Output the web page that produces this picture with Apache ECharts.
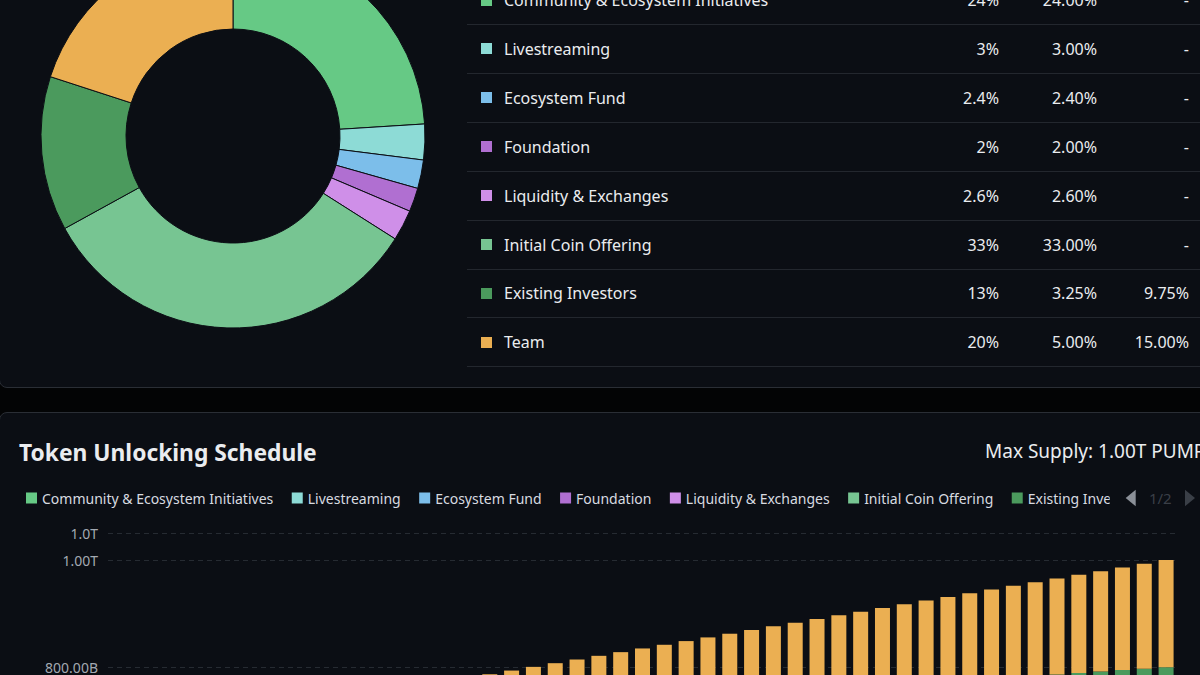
<!DOCTYPE html>
<html>
<head>
<meta charset="utf-8">
<script src="https://cdn.jsdelivr.net/npm/echarts@6/dist/echarts.min.js"></script>
<style>
  html, body { margin:0; padding:0; width:1200px; height:675px; overflow:hidden; background:#030405; font-family: "Noto Sans", Roboto, sans-serif; }
  .card { position:absolute; background:#0b0e14; border:1px solid #2a2e35; border-radius:8px; box-sizing:border-box; }
  #topCard { left:-1px; top:-200px; width:1400px; height:588px; }
  #botCard { left:-1px; top:412px; width:1400px; height:900px; }
  #pie { position:absolute; left:0; top:0; width:466px; height:387px; }
  #bar { position:absolute; left:0; top:412px; width:1200px; height:750px; }
  .row { position:absolute; left:467px; width:733px; height:49px; border-bottom:1px solid #23272e; box-sizing:border-box; color:#eaecef; font-size:16px; }
  .row span { position:absolute; top:50%; transform:translateY(-50%); white-space:nowrap; }
  .sq { position:absolute; left:14px; top:50%; width:11px; height:11px; margin-top:-5.5px; }
  #title { position:absolute; left:19px; top:452px; transform:translateY(-50%); font-size:22.8px; font-weight:700; color:#eaecef; white-space:nowrap; }
  #supply { position:absolute; left:985px; top:451px; transform:translateY(-50%); font-size:19px; color:#eaecef; white-space:nowrap; }
</style>
</head>
<body>
<div class="card" id="topCard"></div>
<div class="card" id="botCard"></div>
<div id="pie"></div>
<div id="table"></div>
<div id="title">Token Unlocking Schedule</div>
<div id="supply">Max Supply: 1.00T PUMP</div>
<div id="bar"></div>
<script>
// ---------- data ----------
const allocNames = ["Community & Ecosystem Initiatives","Livestreaming","Ecosystem Fund","Foundation","Liquidity & Exchanges","Initial Coin Offering","Existing Investors","Team"];
const allocColors = ["#66c985","#8ddbd6","#7cbeea","#b06fd1","#cf8fe8","#77c592","#4b9a5d","#ebaf52"];
const allocShare = [24, 3, 2.4, 2, 2.6, 33, 13, 20];
const tableTotal = ["24%","3%","2.4%","2%","2.6%","33%","13%","20%"];
const tableUnlocked = ["24.00%","3.00%","2.40%","2.00%","2.60%","33.00%","3.25%","5.00%"];
const tableLocked = ["-","-","-","-","-","-","9.75%","15.00%"];

const months = ["2025-07","2025-08","2025-09","2025-10","2025-11","2025-12","2026-01","2026-02","2026-03","2026-04","2026-05","2026-06","2026-07","2026-08","2026-09","2026-10","2026-11","2026-12","2027-01","2027-02","2027-03","2027-04","2027-05","2027-06","2027-07","2027-08","2027-09","2027-10","2027-11","2027-12","2028-01","2028-02","2028-03","2028-04","2028-05","2028-06","2028-07","2028-08","2028-09","2028-10","2028-11","2028-12","2029-01","2029-02","2029-03","2029-04","2029-05","2029-06","2029-07"];

// unlocked amounts, in billions of tokens
const communityVals = [240,240,240,240,240,240,240,240,240,240,240,240,240,240,240,240,240,240,240,240,240,240,240,240,240,240,240,240,240,240,240,240,240,240,240,240,240,240,240,240,240,240,240,240,240,240,240,240,240];
const livestreamVals = [30,30,30,30,30,30,30,30,30,30,30,30,30,30,30,30,30,30,30,30,30,30,30,30,30,30,30,30,30,30,30,30,30,30,30,30,30,30,30,30,30,30,30,30,30,30,30,30,30];
const ecoFundVals = [24,24,24,24,24,24,24,24,24,24,24,24,24,24,24,24,24,24,24,24,24,24,24,24,24,24,24,24,24,24,24,24,24,24,24,24,24,24,24,24,24,24,24,24,24,24,24,24,24];
const foundationVals = [20,20,20,20,20,20,20,20,20,20,20,20,20,20,20,20,20,20,20,20,20,20,20,20,20,20,20,20,20,20,20,20,20,20,20,20,20,20,20,20,20,20,20,20,20,20,20,20,20];
const liquidityVals = [26,26,26,26,26,26,26,26,26,26,26,26,26,26,26,26,26,26,26,26,26,26,26,26,26,26,26,26,26,26,26,26,26,26,26,26,26,26,26,26,26,26,26,26,26,26,26,26,26];
const icoVals = [330,330,330,330,330,330,330,330,330,330,330,330,330,330,330,330,330,330,330,330,330,330,330,330,330,330,330,330,330,330,330,330,330,330,330,330,330,330,330,330,330,330,330,330,330,330,330,330,330];
const investorVals = [32.5,32.5,32.5,32.5,32.5,32.5,32.5,32.5,32.5,32.5,32.5,32.5,32.5,35.21,37.92,40.63,43.33,46.04,48.75,51.46,54.17,56.88,59.58,62.29,65,67.71,70.42,73.13,75.83,78.54,81.25,83.96,86.67,89.38,92.08,94.79,97.5,100.21,102.92,105.63,108.33,111.04,113.75,116.46,119.17,121.88,124.58,127.29,130];
const teamVals = [50,50,50,50,50,50,50,50,50,50,50,50,50,54.17,58.33,62.5,66.67,70.83,75,79.17,83.33,87.5,91.67,95.83,100,104.17,108.33,112.5,116.67,120.83,125,129.17,133.33,137.5,141.67,145.83,150,154.17,158.33,162.5,166.67,170.83,175,179.17,183.33,187.5,191.67,195.83,200];

const yTickLabels = {0:"0.00",200:"200.00B",400:"400.00B",600:"600.00B",800:"800.00B",1000:"1.00T",1050:"1.0T"};
const yMax = 1050, yInterval = 200;

// ---------- table ----------
const table = document.getElementById('table');
allocNames.forEach((n, i) => {
  const r = document.createElement('div');
  r.className = 'row';
  r.style.top = (-24 + 48.9 * i) + 'px';
  r.innerHTML = '<div class="sq" style="background:' + allocColors[i] + '"></div>' +
    '<span style="left:37px">' + n.replace('&','&amp;') + '</span>' +
    '<span style="right:201px">' + tableTotal[i] + '</span>' +
    '<span style="right:103px">' + tableUnlocked[i] + '</span>' +
    '<span style="right:11px">' + tableLocked[i] + '</span>';
  table.appendChild(r);
});

// ---------- pie ----------
const pie = echarts.init(document.getElementById('pie'), null, {renderer:'svg'});
pie.setOption({
  animation:false,
  series:[{
    type:'pie', center:[233,136], radius:[107,192], startAngle:90, clockwise:true,
    label:{show:false}, labelLine:{show:false}, silent:true,
    itemStyle:{borderColor:'#0b0e14', borderWidth:1},
    data: allocNames.map((n,i)=>({name:n, value:allocShare[i], itemStyle:{color:allocColors[i]}}))
  }]
});

// ---------- bar ----------
const seriesVals = [communityVals, livestreamVals, ecoFundVals, foundationVals, liquidityVals, icoVals, investorVals, teamVals];
const bar = echarts.init(document.getElementById('bar'), null, {renderer:'svg'});
bar.setOption({
  animation:false,
  textStyle:{fontFamily:'"Noto Sans", Roboto, sans-serif'},
  legend:{
    type:'scroll', left:21, right:-2, top:70,
    itemWidth:11, itemHeight:11, itemGap:18.5, icon:'rect',
    textStyle:{color:'#d8dbe0', fontSize:14, lineHeight:22},
    pageIconSize:[10,17], pageButtonItemGap:6, pageButtonGap:16,
    pageIconColor:'#3a3f47', pageIconInactiveColor:'#8b9098',
    pageTextStyle:{color:'#3a3f47', fontSize:15},
    data: allocNames
  },
  grid:{left:108, right:23, top:121.3, bottom:66.3},
  xAxis:{type:'category', data:months, axisLine:{lineStyle:{color:'#2a2f36'}}, axisTick:{show:false}, axisLabel:{show:false}},
  yAxis:{type:'value', min:0, max:yMax, interval:yInterval,
    axisLabel:{color:'#a3a9b1', fontSize:14, margin:10, formatter:v=>yTickLabels[v] !== undefined ? yTickLabels[v] : ''},
    splitLine:{lineStyle:{color:'#262b32', type:[5,4]}}},
  series: allocNames.map((n,i)=>({
    name:n, type:'bar', stack:'total', barWidth:15, data:seriesVals[i],
    itemStyle:{color:allocColors[i]}, silent:true
  }))
});
</script>
</body>
</html>
